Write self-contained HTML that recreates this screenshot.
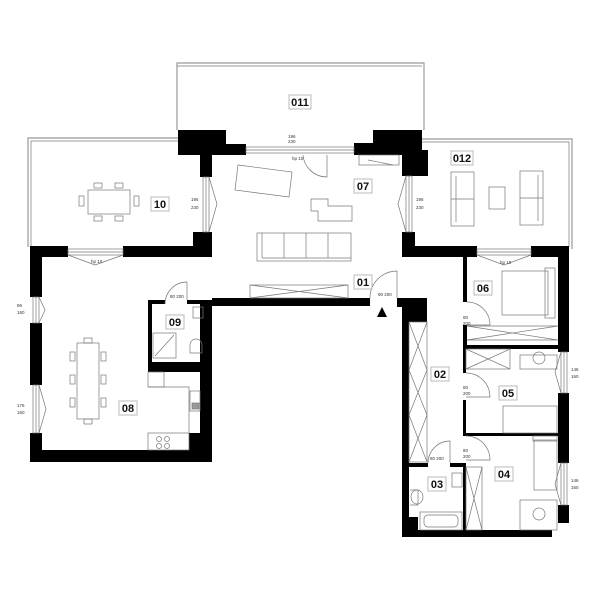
<!DOCTYPE html>
<html><head><meta charset="utf-8"><style>
html,body{margin:0;padding:0;background:#fff;width:600px;height:600px;overflow:hidden}
svg{display:block}
.l{font-family:"Liberation Sans",sans-serif;font-size:11px;font-weight:bold;fill:#111}
.s{font-family:"Liberation Sans",sans-serif;font-size:4.5px;fill:#333}
.f{fill:none;stroke:#777;stroke-width:0.7}
.t{fill:none;stroke:#999;stroke-width:1.2}
</style></head><body>
<svg width="600" height="600" viewBox="0 0 600 600" xmlns="http://www.w3.org/2000/svg">
<path class="t" d="M177 130 V63 H424 V130"/>
<path class="f" d="M177 66 H422"/>
<path class="t" d="M28 247 V138 H178"/>
<path class="f" d="M31 247 V141 H178"/>
<path class="t" d="M422 139 H572 V249"/>
<path class="f" d="M422 142 H569 V247"/>
<g fill="#000">
<rect x="178" y="130" width="48" height="25"/>
<rect x="178" y="144" width="68" height="11"/>
<rect x="200" y="150" width="12" height="27"/>
<rect x="193" y="232" width="19" height="25"/>
<rect x="123" y="246" width="89" height="11"/>
<rect x="30" y="246" width="38" height="11"/>
<rect x="30" y="246" width="12" height="51"/>
<rect x="30" y="323" width="12" height="62"/>
<rect x="30" y="433" width="12" height="29"/>
<rect x="30" y="450" width="182" height="12"/>
<rect x="200" y="300" width="12" height="162"/>
<rect x="189" y="433" width="23" height="29"/>
<rect x="373" y="130" width="49" height="17"/>
<rect x="354" y="143" width="68" height="12"/>
<rect x="402" y="150" width="26" height="26"/>
<rect x="402" y="232" width="13" height="25"/>
<rect x="402" y="246" width="75" height="11"/>
<rect x="531" y="246" width="38" height="11"/>
<rect x="558" y="246" width="11" height="106"/>
<rect x="558" y="393" width="11" height="70"/>
<rect x="558" y="505" width="11" height="18"/>
<rect x="463" y="257" width="4" height="45"/>
<rect x="463" y="325" width="4" height="24"/>
<rect x="463" y="345" width="95" height="4"/>
<rect x="463" y="349" width="3" height="24"/>
<rect x="463" y="400" width="3" height="36"/>
<rect x="463" y="433" width="95" height="3"/>
<rect x="463" y="463" width="3" height="67"/>
<rect x="212" y="298" width="158" height="8"/>
<rect x="148" y="300" width="17" height="4"/>
<rect x="187" y="300" width="25" height="4"/>
<rect x="148" y="300" width="4" height="72"/>
<rect x="148" y="362" width="64" height="10"/>
<rect x="397" y="298" width="30" height="9"/>
<rect x="402" y="300" width="25" height="22"/>
<rect x="402" y="300" width="7" height="237"/>
<rect x="402" y="530" width="150" height="7"/>
<rect x="408" y="517" width="10" height="13"/>
<rect x="408" y="463" width="20" height="4"/>
<rect x="450" y="463" width="16" height="4"/>
</g>
<g class="f">
<rect x="203" y="177" width="6" height="55"/><line x1="206" y1="177" x2="206" y2="232"/>
<rect x="406" y="176" width="6" height="56"/><line x1="409" y1="176" x2="409" y2="232"/>
<rect x="68" y="249" width="55" height="6"/><line x1="68" y1="252" x2="123" y2="252"/>
<rect x="477" y="249" width="54" height="6"/><line x1="477" y1="252" x2="531" y2="252"/>
<rect x="246" y="147" width="108" height="6"/><line x1="246" y1="150" x2="354" y2="150"/>
<rect x="33" y="297" width="6" height="26"/><line x1="36" y1="297" x2="36" y2="323"/>
<rect x="33" y="385" width="6" height="48"/><line x1="36" y1="385" x2="36" y2="433"/>
<rect x="561" y="352" width="6" height="41"/><line x1="564" y1="352" x2="564" y2="393"/>
<rect x="561" y="463" width="6" height="42"/><line x1="564" y1="463" x2="564" y2="505"/>
<path d="M209 177 L217 204 L209 232"/><path d="M406 176 L398 204 L406 232"/>
<path d="M68 255 L95 265 L123 255"/><path d="M477 255 L504 265 L531 255"/>
<path d="M39 297 L45 310 L39 323"/><path d="M39 385 L46 409 L39 433"/>
<path d="M561 352 L555 372 L561 393"/><path d="M561 463 L555 484 L561 505"/>
<path d="M165 304 A22 22 0 0 1 187 282 V300"/>
<path d="M370 298 A27 27 0 0 1 397 271 V298"/>
<path d="M467 302 A23 23 0 0 1 490 325 H467"/>
<path d="M466 373 A24 24 0 0 1 490 397 H466"/>
<path d="M466 436 A24 24 0 0 1 490 460 H466"/>
<path d="M428 463 A22 22 0 0 1 450 441 V463"/>
<path d="M327 155 V177 A24 24 0 0 1 303 155"/>
<rect x="88" y="190" width="42" height="24"/>
<rect x="79" y="196" width="5" height="10"/><rect x="134" y="196" width="5" height="10"/>
<rect x="94" y="183" width="8" height="5"/><rect x="115" y="183" width="8" height="5"/>
<rect x="94" y="216" width="8" height="5"/><rect x="115" y="216" width="8" height="5"/>
<rect x="77" y="343" width="22" height="76"/>
<rect x="84" y="338" width="8" height="5"/><rect x="84" y="419" width="8" height="5"/>
<rect x="70" y="352" width="5" height="9"/><rect x="70" y="375" width="5" height="9"/><rect x="70" y="398" width="5" height="9"/>
<rect x="101" y="352" width="5" height="9"/><rect x="101" y="375" width="5" height="9"/><rect x="101" y="398" width="5" height="9"/>
<path d="M238 165 L292 172 L289 197 L235 190 Z"/>
<path d="M311 199 H328 V206 H352 V221 H318 V211 H311 Z"/>
<rect x="257" y="233" width="94" height="28"/><line x1="262" y1="233" x2="262" y2="258"/><line x1="262" y1="258" x2="351" y2="258"/>
<line x1="284" y1="233" x2="284" y2="258"/><line x1="306" y1="233" x2="306" y2="258"/><line x1="328" y1="233" x2="328" y2="258"/>
<rect x="451" y="172" width="23" height="54"/><line x1="451" y1="199" x2="474" y2="199"/><line x1="456" y1="176" x2="456" y2="222"/>
<rect x="520" y="171" width="23" height="54"/><line x1="520" y1="198" x2="543" y2="198"/><line x1="538" y1="175" x2="538" y2="221"/>
<rect x="489" y="187" width="16" height="22"/>
<rect x="250" y="285" width="98" height="13"/><path d="M250 285 L348 298 M250 298 L348 285"/>
<rect x="359" y="155" width="40" height="10"/><line x1="368" y1="160" x2="393" y2="165"/>
<rect x="502" y="271" width="46" height="44"/><rect x="545" y="268" width="10" height="50"/>
<path d="M467 326 H558 M467 340 H558"/><path d="M467 326 L558 340 M467 340 L558 326"/>
<rect x="466" y="349" width="44" height="20"/><path d="M466 349 L510 369 M466 369 L510 349"/>
<rect x="503" y="406" width="54" height="27"/><rect x="520" y="355" width="37" height="14"/>
<rect x="533" y="436" width="24" height="5"/><rect x="534" y="440" width="23" height="50"/>
<rect x="520" y="500" width="37" height="30"/>
<ellipse cx="539" cy="358" rx="6" ry="6"/><ellipse cx="539" cy="514" rx="6" ry="6"/>
<rect x="409" y="322" width="18" height="140"/><path d="M409 322 L427 370 M427 322 L409 370 M409 370 L427 415 M427 370 L409 415 M409 415 L427 462 M427 415 L409 462"/>
<rect x="466" y="467" width="16" height="63"/><path d="M466 467 L482 530 M482 467 L466 530"/>
<rect x="420" y="512" width="42" height="18"/><rect x="424" y="515" width="34" height="12" rx="4"/>
<path d="M410 490 H418 V505 H410"/><ellipse cx="417" cy="497" rx="6" ry="7"/>
<rect x="452" y="473" width="10" height="14"/>
<rect x="153" y="333" width="23" height="25"/><line x1="155" y1="356" x2="174" y2="335"/>
<rect x="193" y="307" width="10" height="11"/><path d="M190 353 V345 A6 6 0 0 1 202 345 V353 Z"/>
<rect x="148" y="372" width="16" height="15"/>
<path d="M148 387 H189 V433"/>
<rect x="190" y="391" width="10" height="20"/><rect x="192" y="403" width="7" height="6" fill="#999"/>
<rect x="148" y="433" width="41" height="17"/>
<circle cx="159" cy="439" r="2.5"/><circle cx="167" cy="439" r="2.5"/><circle cx="159" cy="446" r="2.5"/><circle cx="167" cy="446" r="2.5"/>
</g>
<polygon points="382,307 377,317 387,317" fill="#000"/>
<g fill="#fff" stroke="#aaa" stroke-width="0.8">
<rect x="289" y="95" width="22" height="14"/><rect x="151" y="197" width="18" height="14"/>
<rect x="354" y="179" width="18" height="14"/><rect x="451" y="151" width="22" height="14"/>
<rect x="354" y="275" width="18" height="14"/><rect x="474" y="281" width="18" height="14"/>
<rect x="166" y="315" width="18" height="14"/><rect x="119" y="401" width="18" height="14"/>
<rect x="431" y="367" width="18" height="14"/><rect x="499" y="386" width="18" height="14"/>
<rect x="428" y="477" width="18" height="14"/><rect x="495" y="467" width="18" height="14"/>
</g>
<g class="l" text-anchor="middle">
<text x="300" y="106">011</text><text x="160" y="208">10</text>
<text x="363" y="190">07</text><text x="462" y="162">012</text>
<text x="363" y="286">01</text><text x="483" y="292">06</text>
<text x="175" y="326">09</text><text x="128" y="412">08</text>
<text x="440" y="378">02</text><text x="508" y="397">05</text>
<text x="437" y="488">03</text><text x="504" y="478">04</text>
</g>
<g class="s">
<text x="191" y="201">196</text><text x="191" y="209">230</text>
<text x="416" y="201">196</text><text x="416" y="209">230</text>
<text x="17" y="307">96</text><text x="17" y="314">160</text>
<text x="17" y="407">176</text><text x="17" y="414">160</text>
<text x="571" y="371">146</text><text x="571" y="378">160</text>
<text x="571" y="482">146</text><text x="571" y="489">160</text>
<text x="463" y="319">80</text><text x="463" y="325">200</text>
<text x="463" y="389">80</text><text x="463" y="395">200</text>
<text x="463" y="452">80</text><text x="463" y="458">200</text>
<text x="91" y="263">hp 10</text><text x="500" y="264">hp 10</text><text x="292" y="160">hp 10</text>
<text x="288" y="138">196</text><text x="288" y="143">230</text>
<text x="170" y="298">80 200</text><text x="378" y="296">90 200</text><text x="430" y="460">80 200</text>
</g>
</svg>
</body></html>
